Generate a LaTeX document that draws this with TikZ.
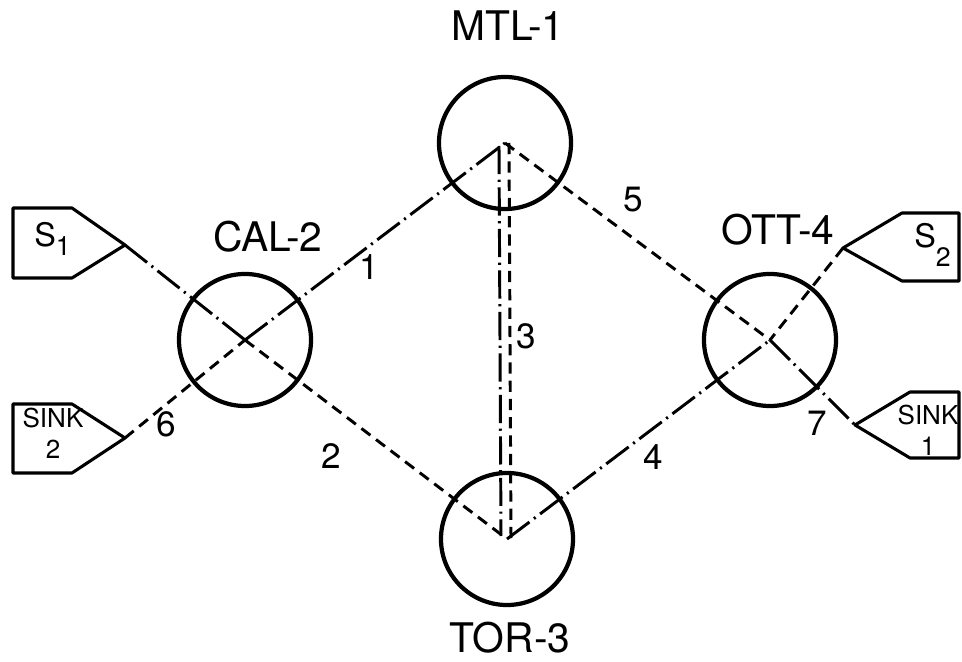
\documentclass[tikz,border=0pt]{standalone}
\usepackage{fontspec}
\setmainfont{TeX Gyre Heros}
\usepackage{tikz}
\usetikzlibrary{calc}

\begin{document}
\begin{tikzpicture}[x=0.025cm,y=-0.025cm,
stn/.style={draw,circle,line width=3pt,minimum size=3.3cm,inner sep=0pt},
dd/.style={line width=2.1pt,dash pattern=on 20pt off 4pt on 1.5pt off 4pt},
ds/.style={line width=2.1pt,dash pattern=on 8pt off 5pt},
tag/.style={draw,line width=2.2pt,line join=round},
big/.style={inner sep=0pt,font=\fontsize{29}{32}\selectfont},
num/.style={inner sep=0pt,font=\fontsize{25}{28}\selectfont},
tagtxt/.style={inner sep=0pt,align=center,font=\fontsize{18.5}{22}\selectfont}]
\useasboundingbox[fill=white] (0,0) rectangle (962,662);
% stations
\node[stn] (mtl) at (505,143) {};
\node[stn] (cal) at (245,340) {};
\node[stn] (tor) at (507,539) {};
\node[stn] (ott) at (770,340) {};
\node[big] (mtltxt) at (508,26) {MTL-1};
\node[big] (caltxt) at (268,237) {CAL-2};
\node[big] (tortxt) at (510,638) {TOR-3};
\node[big] (otttxt) at (778,230) {OTT-4};
% sources and sinks
\draw[tag] (13,208) -- (72,208) -- (125,245) coordinate (s1) -- (72,278) -- (13,278) -- cycle;
\draw[tag] (13,404) -- (72,404) -- (125,438) coordinate (sink2) -- (72,473) -- (13,473) -- cycle;
\draw[tag] (959,213) -- (902,213) -- (843,248) coordinate (s2) -- (902,281) -- (959,281) -- cycle;
\draw[tag] (959,392) -- (910,392) -- (855,425) coordinate (sink1) -- (910,458) -- (959,458) -- cycle;
\node[anchor=base west,inner sep=0pt,font=\fontsize{23}{26}\selectfont] (s1txt) at (34,247)
  {S\raisebox{-5.7pt}{\fontsize{19}{20}\selectfont 1}};
\node[anchor=base west,inner sep=0pt,font=\fontsize{23}{26}\selectfont] (s2txt) at (914,248)
  {S\raisebox{-13pt}{\fontsize{19}{20}\selectfont 2}};
\node[tagtxt] (sink2txt) at (53,433) {SINK\\2};
\node[tagtxt] (sink1txt) at (928,430) {SINK\\1};
% links
\draw[dd] (s1) -- (cal.center);
\draw[ds] (sink2) -- (cal.center);
\draw[dd] (cal.center) -- (mtl.center);
\draw[ds] (cal.center) -- (tor.center);
\draw[dd] ($(mtl.center)+(-6,3)$) -- ($(tor.center)+(-6,-3)$);
\draw[ds] ($(mtl.center)+(4,0)$) -- ($(tor.center)+(4,0)$);
\draw[ds] (mtl.center) -- (ott.center);
\draw[dd] (tor.center) -- (ott.center);
\draw[ds] (s2) -- (ott.center);
\draw[dd] (ott.center) -- (sink1);
\node[num] (n1) at (369,267) {1};
\node[num] (n2) at (331,456) {2};
\node[num] (n3) at (526,336) {3};
\node[num] (n4) at (653,457) {4};
\node[num] (n5) at (633,200) {5};
\node[num] (n6) at (166,424) {6};
\node[num] (n7) at (817,423) {7};
\end{tikzpicture}
\end{document}
